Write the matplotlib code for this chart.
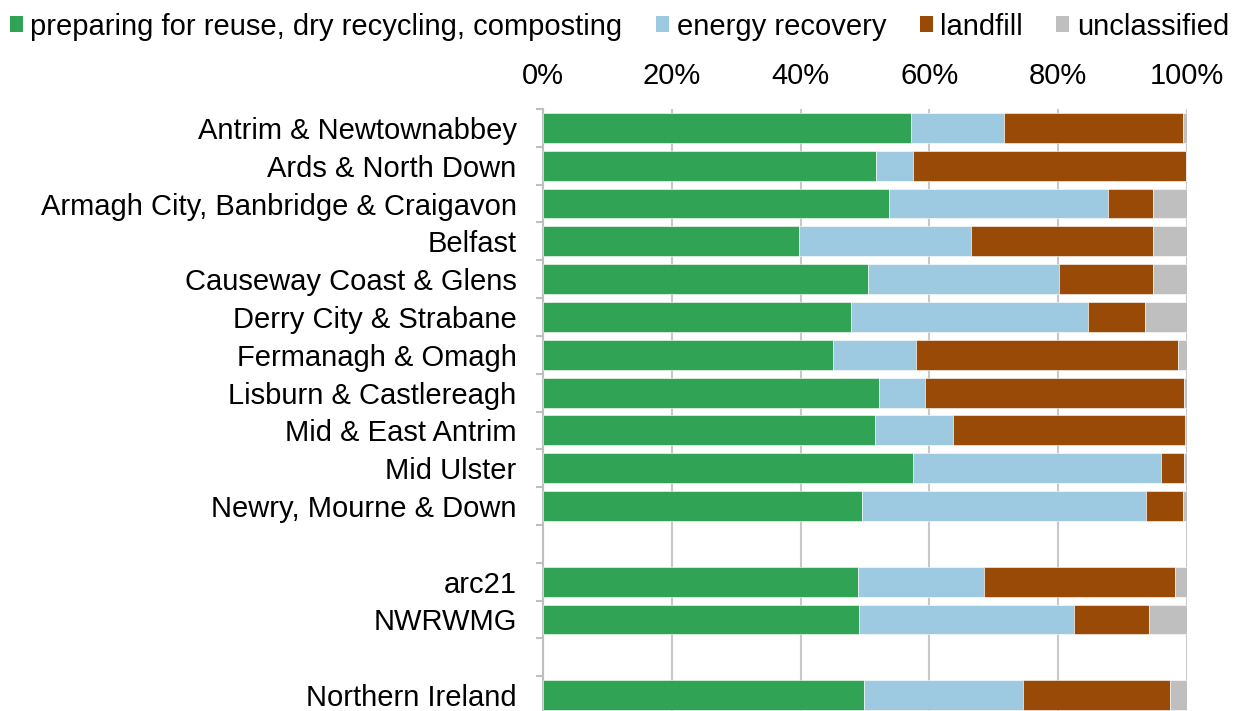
import numpy as np
import matplotlib.pyplot as plt
from matplotlib.patches import Patch

plt.rcParams['font.family'] = ['Liberation Sans', 'DejaVu Sans']

# data (shares of household waste, %)
councils = ['Antrim & Newtownabbey', 'Ards & North Down',
            'Armagh City, Banbridge & Craigavon', 'Belfast',
            'Causeway Coast & Glens', 'Derry City & Strabane',
            'Fermanagh & Omagh', 'Lisburn & Castlereagh',
            'Mid & East Antrim', 'Mid Ulster', 'Newry, Mourne & Down']
regions = ['arc21', 'NWRWMG']
country = ['Northern Ireland']

recycling = [57.1, 51.7, 53.8, 39.8, 50.4, 47.8, 45.1, 52.1, 51.5, 57.4, 49.5,
             48.9, 49.0,
             49.9]
energy = [14.5, 5.8, 34.0, 26.7, 29.7, 36.9, 12.8, 7.2, 12.1, 38.5, 44.1,
          19.6, 33.4,
          24.7]
landfill = [27.8, 42.3, 6.9, 28.2, 14.6, 8.8, 40.7, 40.2, 36.1, 3.6, 5.8,
            29.7, 11.7,
            22.7]
unclassified = [0.6, 0.2, 5.3, 5.3, 5.3, 6.5, 1.4, 0.5, 0.3, 0.5, 0.6,
                1.8, 5.9,
                2.7]

series = ['preparing for reuse, dry recycling, composting', 'energy recovery',
          'landfill', 'unclassified']
colours = ['#31A354', '#9ECAE1', '#994A07', '#BFBFBF']

FS = 21

# row positions: one blank row between the groups
labels = councils + regions + country
pos = []
p = 0
for grp in (councils, regions, country):
    for _ in grp:
        pos.append(p)
        p += 1
    p += 1
pos = np.array(pos)
nrows = pos[-1] + 1

fig = plt.figure(figsize=(12.39, 7.11), dpi=100)
ax = fig.add_axes([543/1239, 1 - 714/711, 644/1239, 605/711])

left = np.zeros(len(labels))
for vals, name, col in zip([recycling, energy, landfill, unclassified], series, colours):
    vals = np.array(vals)
    ax.barh(pos, vals, left=left, height=0.79, color=col, label=name,
            edgecolor='white', linewidth=0.4, zorder=3)
    left += vals

ax.set_xlim(0, 100)
ax.set_ylim(nrows - 0.5, -0.5)
ax.xaxis.tick_top()
ax.set_xticks(np.arange(0, 101, 20))
ax.set_xticklabels([f'{v}%' for v in range(0, 101, 20)])
ax.tick_params(axis='x', length=0, pad=14, labelsize=FS)
ax.grid(axis='x', color='#C8C8C8', linewidth=1.5, zorder=0)

ax.set_yticks(pos)
ax.set_yticklabels(labels)
ax.set_yticks(np.arange(-0.5, nrows, 1), minor=True)
ax.tick_params(axis='y', which='major', length=0, pad=19, labelsize=FS)
ax.tick_params(axis='y', which='minor', length=5, width=1.5, color='#BFBFBF')

for s in ['top', 'right', 'bottom']:
    ax.spines[s].set_visible(False)
ax.spines['left'].set_color('#BFBFBF')
ax.spines['left'].set_linewidth(1.5)

handles = [Patch(facecolor=c, label=s) for s, c in zip(series, colours)]
fig.legend(handles=handles, loc='upper center', bbox_to_anchor=(0.5, 1.007),
           ncol=4, frameon=False, fontsize=FS, handlelength=0.45,
           handleheight=0.45, handletextpad=0.25, columnspacing=1.15,
           borderaxespad=0.2)

fig.savefig('out.png', dpi=100)
